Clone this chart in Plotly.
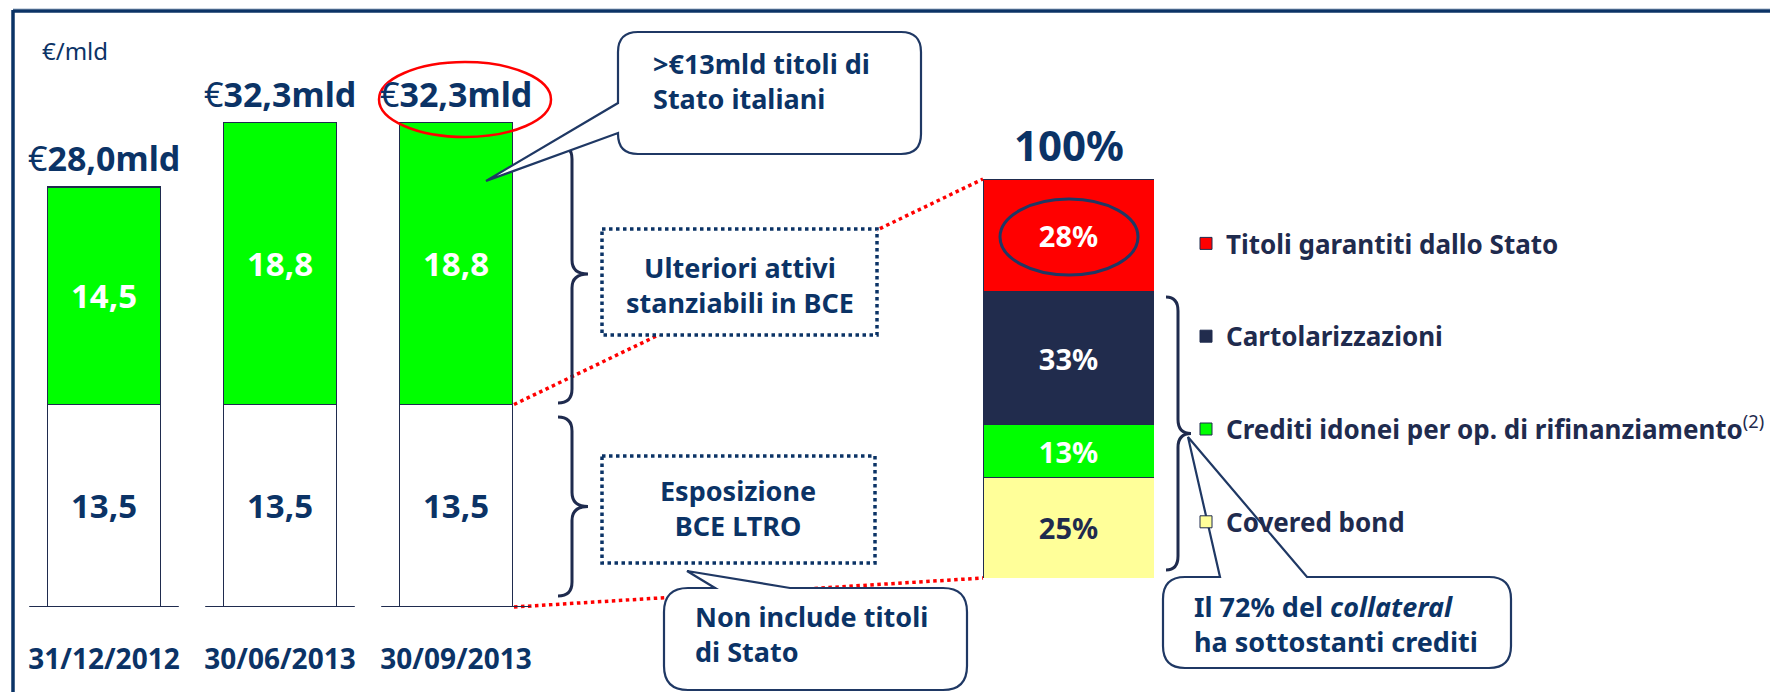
import plotly.graph_objects as go

# the page body keeps its default 8px margin, so the figure is 8px smaller
OFF = 8
FW, FH = 1778 - OFF, 692 - OFF

# data
DATES = ["31/12/2012", "30/06/2013", "30/09/2013"]
LTRO = [13.5, 13.5, 13.5]          # Esposizione BCE LTRO
ALTRI = [14.5, 18.8, 18.8]         # Ulteriori attivi stanziabili in BCE
MIX_LABELS = ["Covered bond", "Crediti idonei per op. di rifinanziamento",
              "Cartolarizzazioni", "Titoli garantiti dallo Stato"]
MIX_PCT = [25, 13, 33, 28]
MIX_TOTAL_LABEL = "100%"

# colours
NAVY = "#0b3366"
DARK = "#1f2b4e"
GREEN = "#00ff00"
RED = "#ff0000"
MIX_COLORS = ["#ffff99", GREEN, "#212c4d", RED]
MIX_TEXT = [DARK, "white", "white", "white"]

# left chart geometry (screen pixels)
BASE_PX = 607
PX_PER = 15
TOP_PX = 11


def fx(p):
    return (p - OFF) / FW


def fy(p):
    return 1 - (p - OFF) / FH


fig = go.Figure()

fig.add_trace(go.Bar(
    x=DATES, y=LTRO, marker=dict(color="white", line=dict(color=DARK, width=1.5)),
    texttemplate="%{y:.1f}", textposition="inside", insidetextanchor="middle", textangle=0,
    textfont=dict(size=33, color=NAVY, weight="bold"), showlegend=False, hoverinfo="skip"))
fig.add_trace(go.Bar(
    x=DATES, y=ALTRI, marker=dict(color=GREEN, line=dict(color=DARK, width=1.5)),
    texttemplate="%{y:.1f}", textposition="inside", insidetextanchor="middle", textangle=0,
    textfont=dict(size=33, color="white", weight="bold"), showlegend=False, hoverinfo="skip"))

n = len(MIX_LABELS)
for i, (lab, val, col, tcol) in enumerate(zip(MIX_LABELS, MIX_PCT, MIX_COLORS, MIX_TEXT)):
    name = lab
    if lab.startswith("Crediti"):
        name = lab + "<sup><span style='font-weight:normal'>(2)</span></sup>"
    fig.add_trace(go.Bar(
        x=[0], y=[val], width=1, name=name, legendgroup=lab, legendrank=n - i,
        marker=dict(color=col, line=dict(color=DARK, width=1)),
        texttemplate="%{y}%", textposition="inside", insidetextanchor="middle", textangle=0,
        textfont=dict(size=29, color=tcol, weight="bold"),
        xaxis="x2", yaxis="y2", hoverinfo="skip"))

# dummy trace for the pixel overlay axes
fig.add_trace(go.Scatter(x=[], y=[], xaxis="x3", yaxis="y3", showlegend=False))


def brace(xl, xs, xt, y0, y1, r=14):
    ym = (y0 + y1) / 2
    return (f"M{xl},{y0} Q{xs},{y0} {xs},{y0 + r} L{xs},{ym - r} Q{xs},{ym} {xt},{ym} "
            f"Q{xs},{ym} {xs},{ym + r} L{xs},{y1 - r} Q{xs},{y1} {xl},{y1}")


def bubble(x0, y0, x1, y1, r, wedge):
    side, a, b, tx, ty = wedge
    p = f"M{x0 + r},{y0} "
    if side == "top":
        p += f"L{a},{y0} L{tx},{ty} L{b},{y0} "
    p += (f"L{x1 - r},{y0} Q{x1},{y0} {x1},{y0 + r} L{x1},{y1 - r} Q{x1},{y1} {x1 - r},{y1} "
          f"L{x0 + r},{y1} Q{x0},{y1} {x0},{y1 - r} ")
    if side == "left":
        p += f"L{x0},{b} L{tx},{ty} L{x0},{a} "
    p += f"L{x0},{y0 + r} Q{x0},{y0} {x0 + r},{y0} Z"
    return p


px = dict(xref="x3", yref="y3", layer="above")
shapes = []
# outer frame
shapes.append(dict(type="line", x0=13, x1=1778, y0=8, y1=8, line=dict(color="#9fb2c8", width=1), **px))
shapes.append(dict(type="line", x0=13, x1=1778, y0=11, y1=11, line=dict(color=NAVY, width=3.5), **px))
shapes.append(dict(type="line", x0=13, x1=13, y0=10, y1=692, line=dict(color=NAVY, width=3.5), **px))

# red dotted connectors
bar3_right = 514
split_px = BASE_PX - LTRO[2] * PX_PER
shapes.append(dict(type="line", x0=bar3_right, y0=split_px, x1=983, y1=179,
                   line=dict(color=RED, width=3.5, dash="dot"), **px))
shapes.append(dict(type="line", x0=bar3_right, y0=BASE_PX, x1=983, y1=578,
                   line=dict(color=RED, width=3.5, dash="dot"), **px))

# base lines under the bars
for i in range(len(DATES)):
    shapes.append(dict(type="line", xref="x", yref="y", x0=i - 0.425, x1=i + 0.425, y0=0, y1=0,
                       line=dict(color=DARK, width=2), layer="above"))

# braces
for b in [(558, 572, 588, 145, 403), (558, 572, 588, 417, 596), (1166, 1178, 1191, 297, 570)]:
    shapes.append(dict(type="path", path=brace(*b), line=dict(color=DARK, width=3), **px))

# dotted boxes
for x0, y0, x1, y1 in [(602, 229, 877, 335), (602, 456, 875, 563)]:
    shapes.append(dict(type="rect", x0=x0, y0=y0, x1=x1, y1=y1, fillcolor="white",
                       line=dict(color=NAVY, width=3.5, dash="dot"), **px))

# callout bubbles
for args in [(618, 32, 921, 154, 20, ("left", 103, 133, 486, 181)),
             (664, 588, 967, 690, 24, ("top", 715, 790, 687, 571)),
             (1163, 577, 1511, 668, 22, ("top", 1220, 1307, 1188, 437))]:
    shapes.append(dict(type="path", path=bubble(*args), fillcolor="white",
                       line=dict(color="#1f3864", width=2.2), **px))

# highlight ellipses
shapes.append(dict(type="circle", x0=379, x1=551, y0=62, y1=137, line=dict(color=RED, width=2.5), **px))
shapes.append(dict(type="circle", x0=1000, x1=1138, y0=199, y1=275, line=dict(color="#1f3864", width=3), **px))

annotations = []
annotations.append(dict(x=40, y=50, text="€/mld", showarrow=False, xanchor="left", yanchor="middle",
                        font=dict(size=24, color=NAVY), xref="x3", yref="y3"))
for d, a, b in zip(DATES, LTRO, ALTRI):
    tot = f"{a + b:.1f}".replace(".", ",")
    annotations.append(dict(x=d, y=a + b, xref="x", yref="y", text=f"€<b>{tot}mld</b>",
                            showarrow=False, yanchor="bottom", yshift=4,
                            font=dict(size=34, color=NAVY)))
annotations.append(dict(x=0, y=sum(MIX_PCT), xref="x2", yref="y2", text=f"<b>{MIX_TOTAL_LABEL}</b>",
                        showarrow=False, yanchor="bottom", yshift=4, font=dict(size=42, color=NAVY)))

texts = [
    (651, 81, "left", ">€13mld titoli di<br>Stato italiani"),
    (740, 285, "center", "Ulteriori attivi<br>stanziabili in BCE"),
    (738, 508, "center", "Esposizione<br>BCE LTRO"),
    (693, 634, "left", "Non include titoli<br>di Stato"),
    (1192, 624, "left", "Il 72% del <i>collateral</i><br>ha sottostanti crediti"),
]
for x, y, al, t in texts:
    annotations.append(dict(x=x, y=y, xref="x3", yref="y3", text=f"<b>{t}</b>", showarrow=False,
                            xanchor=al, yanchor="middle", align=al,
                            font=dict(size=27, color=NAVY)))

fig.update_layout(
    width=FW, height=FH, margin=dict(l=0, r=0, t=0, b=0),
    paper_bgcolor="white", plot_bgcolor="rgba(0,0,0,0)",
    font=dict(family="Noto Sans", color=NAVY),
    separators=",.",
    barmode="stack", bargap=0.358,
    xaxis=dict(domain=[fx(16), fx(544)], type="category", showgrid=False, zeroline=False,
               showline=False, ticks="outside", ticklen=27, tickcolor="rgba(0,0,0,0)",
               tickfont=dict(size=28, color=NAVY, weight="bold"), fixedrange=True),
    yaxis=dict(domain=[fy(BASE_PX), fy(TOP_PX)], range=[0, (BASE_PX - TOP_PX) / PX_PER],
               visible=False, fixedrange=True),
    xaxis2=dict(domain=[fx(983), fx(1154)], range=[-0.5, 0.5], visible=False, anchor="y2"),
    yaxis2=dict(domain=[fy(578), fy(179)], range=[0, sum(MIX_PCT)], visible=False, anchor="x2"),
    xaxis3=dict(domain=[0, 1], range=[OFF, OFF + FW], visible=False, anchor="y3"),
    yaxis3=dict(domain=[0, 1], range=[OFF + FH, OFF], visible=False, anchor="x3"),
    legend=dict(x=fx(1186), y=fy(220), xanchor="left", yanchor="top",
                traceorder="grouped", tracegroupgap=56, bgcolor="rgba(0,0,0,0)",
                font=dict(size=26, color=DARK, weight="bold")),
    shapes=shapes, annotations=annotations,
)

fig.write_html("out.html", config={"displayModeBar": False})
